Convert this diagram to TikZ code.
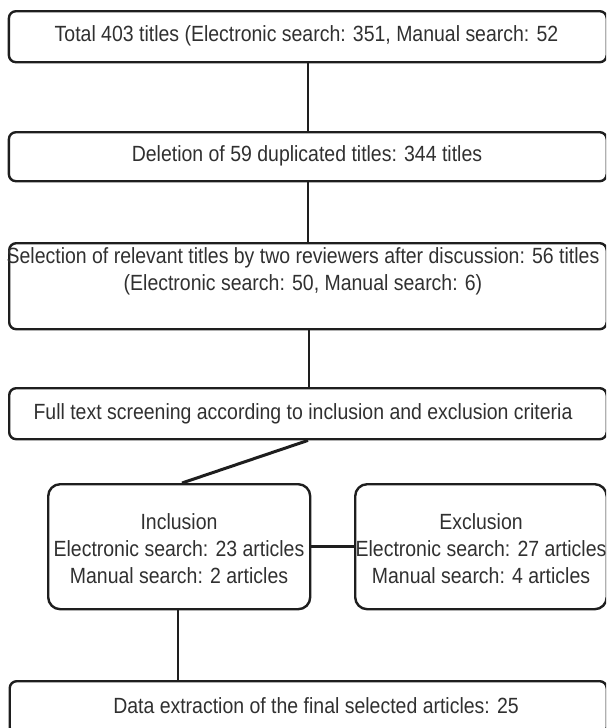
\documentclass[tikz,border=0pt]{standalone}
\usepackage{fontspec}
\setmainfont{Liberation Sans}[FakeStretch=0.885]
\definecolor{linec}{HTML}{1E1E1E}
\definecolor{textc}{HTML}{303030}
\begin{document}
\begin{tikzpicture}[x=1pt,y=-1pt,
  box/.style={draw=linec, line width=2.4pt, rounded corners=7pt, anchor=north west, inner sep=0pt},
  bigbox/.style={box, rounded corners=12pt},
  txt/.style={text=textc, font=\fontsize{22}{27}\selectfont, align=center, inner sep=0pt},
  conn/.style={draw=linec, line width=1.9pt},
  boldconn/.style={draw=linec, line width=3pt}]
\useasboundingbox (0,0) rectangle (606,728);
\clip (0,0) rectangle (606,728);
% boxes
\node[box, minimum width=597.8pt, minimum height=51pt] (b1) at (7.7,10) {};
\node[box, minimum width=597.8pt, minimum height=49pt] (b2) at (7.7,131) {};
\node[box, minimum width=597.5pt, minimum height=86pt] (b3) at (8,242) {};
\node[box, minimum width=597.5pt, minimum height=51pt] (b4) at (8,387) {};
\node[bigbox, minimum width=262pt, minimum height=125pt] (inc) at (47,483) {};
\node[bigbox, minimum width=251.5pt, minimum height=125pt] (exc) at (354,483) {};
\node[box, minimum width=597pt, minimum height=53pt] (b5) at (8.5,680) {};
% texts
\node[txt] (t1) at (306.5,36) {Total 403 titles (Electronic search: 351, Manual search: 52};
\node[txt] (t2) at (307,156) {Deletion of 59 duplicated titles: 344 titles};
\node[txt] (t3) at (303,271.5) {Selection of relevant titles by two reviewers after discussion: 56 titles\\(Electronic search: 50, Manual search: 6)};
\node[txt] (t4) at (303,414) {Full text screening according to inclusion and exclusion criteria};
\node[txt] (tinc) at (179,549) {Inclusion\\Electronic search: 23 articles\\Manual search: 2 articles};
\node[txt] (texc) at (481,549) {Exclusion\\Electronic search: 27 articles\\Manual search: 4 articles};
\node[txt] (t5) at (316,706) {Data extraction of the final selected articles: 25};
% guide coordinates
\coordinate (xa) at (308,0);
\coordinate (xb) at (309,0);
\coordinate (xc) at (182,0);
\coordinate (xd) at (178,0);
\coordinate (yh) at (0,546);
% connectors
\draw[conn] (b1.south -| xa) -- (b2.north -| xa);
\draw[conn] (b2.south -| xa) -- (b3.north -| xa);
\draw[conn] (b3.south -| xb) -- (b4.north -| xb);
\draw[boldconn] (b4.south -| xa) -- (inc.north -| xc);
\draw[boldconn] (inc.east |- yh) -- (exc.west |- yh);
\draw[conn] (inc.south -| xd) -- (b5.north -| xd);
\end{tikzpicture}
\end{document}
